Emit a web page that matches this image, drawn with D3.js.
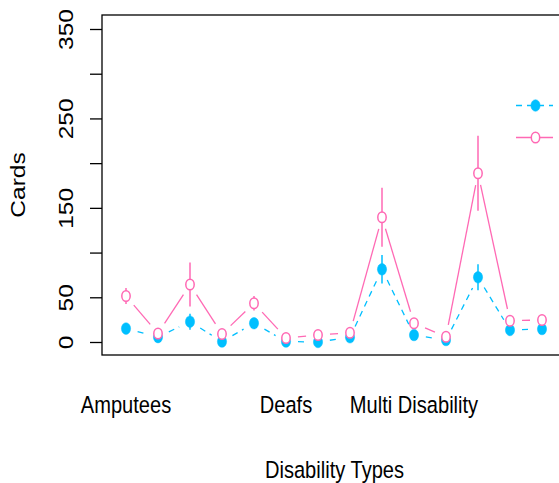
<!DOCTYPE html>
<html>
<head>
<meta charset="utf-8">
<script src="https://cdn.jsdelivr.net/npm/d3@7"></script>
<style>
  html, body { margin: 0; padding: 0; background: #fff; overflow: hidden; }
  text { font-family: "Liberation Sans", Arial, sans-serif; fill: #000; }
</style>
</head>
<body>
<svg id="chart" width="559" height="483"></svg>
<script>
// Disability types on the x axis (only some names fit under the axis)
const categories = [
  "Amputees", "Autism", "Blind", "Cerebral Palsy", "Deaf-Blind", "Deafs", "Dwarfs",
  "Learning Disability", "Mental Illness", "Multi Disability", "Paraplegic",
  "Physical Disability", "Spinal Injury", "Visually Impaired"
];
const shownLabels = ["Amputees", "Deafs", "Multi Disability"];

// Two groups: mean number of cards and half-width of the error bar
const seriesNames = ["Male", "Female"];
const maleMeans   = [15, 5.5, 22.7, 0.5, 21, 0.5, 0, 5.3, 81.3, 7.8, 2.2, 72.4, 13.4, 14.5];
const maleErr     = [4, 1, 9, 0.5, 4, 0.5, 0.5, 2, 16, 3, 1, 14.5, 3, 3];
const femaleMeans = [51.5, 9.5, 64.3, 9, 43.3, 4.5, 7.8, 10.4, 139.5, 21, 5.9, 188.7, 23.8, 24.6];
const femaleErr   = [9, 2, 24.5, 2, 8, 1, 2, 2, 33, 4, 1, 42, 3, 3];

const yTicks = [0, 50, 100, 150, 200, 250, 300, 350];
const yTickLabels = [0, 50, 150, 250, 350];

const colors = { male: "#00BFFF", female: "#FF69B4" };
const SX = 0.82;          // horizontal squeeze applied to all text
const FONT = 24.5;

const svg = d3.select("#chart");
const plot = { left: 102, right: 567, top: 15, bottom: 355 };

const x = d3.scaleLinear().domain([1, categories.length]).range([126, 542]);
const y = d3.scaleLinear().domain([0, 350]).range([342, 29]);

// Plot frame
svg.append("rect")
  .attr("x", plot.left).attr("y", plot.top)
  .attr("width", plot.right - plot.left).attr("height", plot.bottom - plot.top)
  .attr("fill", "none").attr("stroke", "#000").attr("stroke-width", 1.3);

// Y axis: ticks outside, rotated labels
const yAxis = d3.axisLeft(y)
  .tickValues(yTicks)
  .tickSize(12)
  .tickSizeOuter(0)
  .tickFormat(d => yTickLabels.includes(d) ? d : "");
const gy = svg.append("g").attr("transform", `translate(${plot.left},0)`).call(yAxis);
gy.select(".domain").remove();
gy.selectAll(".tick line").attr("stroke", "#000").attr("stroke-width", 1.3);
gy.selectAll(".tick text")
  .attr("x", null).attr("dy", null)
  .attr("text-anchor", "middle")
  .attr("transform", `translate(-29.5,0) scale(${SX},1) rotate(-90)`)
  .style("font-size", FONT + "px")
  .style("font-family", '"Liberation Sans", Arial, sans-serif')
  .attr("fill", "#000");

// Y axis title
svg.append("text")
  .attr("text-anchor", "middle")
  .attr("transform", `translate(25,${(plot.top + plot.bottom) / 2}) scale(${SX},1) rotate(-90)`)
  .style("font-size", FONT + "px")
  .text("Cards");

// X category labels (no tick marks)
svg.append("g").selectAll("text")
  .data(categories.map((c, i) => ({ c, i: i + 1 })).filter(d => shownLabels.includes(d.c)))
  .join("text")
  .attr("text-anchor", "middle")
  .attr("transform", d => `translate(${x(d.i)},413) scale(${SX},1)`)
  .style("font-size", FONT + "px")
  .text(d => d.c);

// X axis title
svg.append("text")
  .attr("text-anchor", "middle")
  .attr("transform", `translate(${(plot.left + plot.right) / 2},478) scale(${SX},1)`)
  .style("font-size", FONT + "px")
  .text("Disability Types");

// Lines between points leave a gap around each marker
const GAP = 12;
function gappedSegments(means) {
  const pts = means.map((v, i) => [x(i + 1), y(v)]);
  const segs = [];
  for (let k = 0; k < pts.length - 1; k++) {
    const [x0, y0] = pts[k], [x1, y1] = pts[k + 1];
    const len = Math.hypot(x1 - x0, y1 - y0);
    if (len <= 2 * GAP) continue;
    const ux = (x1 - x0) / len, uy = (y1 - y0) / len;
    segs.push([x0 + ux * GAP, y0 + uy * GAP, x1 - ux * GAP, y1 - uy * GAP]);
  }
  return segs;
}

function drawSeries(means, errs, color, dashed, filled) {
  const g = svg.append("g");
  g.selectAll("line.seg").data(gappedSegments(means)).join("line")
    .attr("class", "seg")
    .attr("x1", d => d[0]).attr("y1", d => d[1])
    .attr("x2", d => d[2]).attr("y2", d => d[3])
    .attr("stroke", color).attr("stroke-width", 1.3)
    .attr("stroke-dasharray", dashed ? "6,5" : null);
  g.selectAll("line.err").data(means).join("line")
    .attr("class", "err")
    .attr("x1", (d, i) => x(i + 1)).attr("x2", (d, i) => x(i + 1))
    .attr("y1", (d, i) => y(d - errs[i])).attr("y2", (d, i) => y(d + errs[i]))
    .attr("stroke", color).attr("stroke-width", 1.5);
  g.selectAll("ellipse").data(means).join("ellipse")
    .attr("cx", (d, i) => x(i + 1)).attr("cy", d => y(d))
    .attr("rx", filled ? 4.6 : 4.2).attr("ry", filled ? 5.8 : 5.3)
    .attr("fill", filled ? color : "#fff")
    .attr("stroke", color).attr("stroke-width", filled ? 0.5 : 1.5);
}

drawSeries(maleMeans, maleErr, colors.male, true, true);
drawSeries(femaleMeans, femaleErr, colors.female, false, false);

// Legend symbols (text runs past the right edge)
const legend = svg.append("g");
const legendRows = [
  { name: seriesNames[0], color: colors.male, dashed: true, filled: true, y: 105.5 },
  { name: seriesNames[1], color: colors.female, dashed: false, filled: false, y: 137.5 }
];
legendRows.forEach(r => {
  legend.append("line")
    .attr("x1", 516).attr("x2", 553).attr("y1", r.y).attr("y2", r.y)
    .attr("stroke", r.color).attr("stroke-width", 1.3)
    .attr("stroke-dasharray", r.dashed ? "6,5" : null);
  legend.append("ellipse")
    .attr("cx", 535.5).attr("cy", r.y)
    .attr("rx", r.filled ? 4.6 : 4.2).attr("ry", r.filled ? 5.8 : 5.3)
    .attr("fill", r.filled ? r.color : "#fff")
    .attr("stroke", r.color).attr("stroke-width", r.filled ? 0.5 : 1.5);
});
</script>
</body>
</html>
